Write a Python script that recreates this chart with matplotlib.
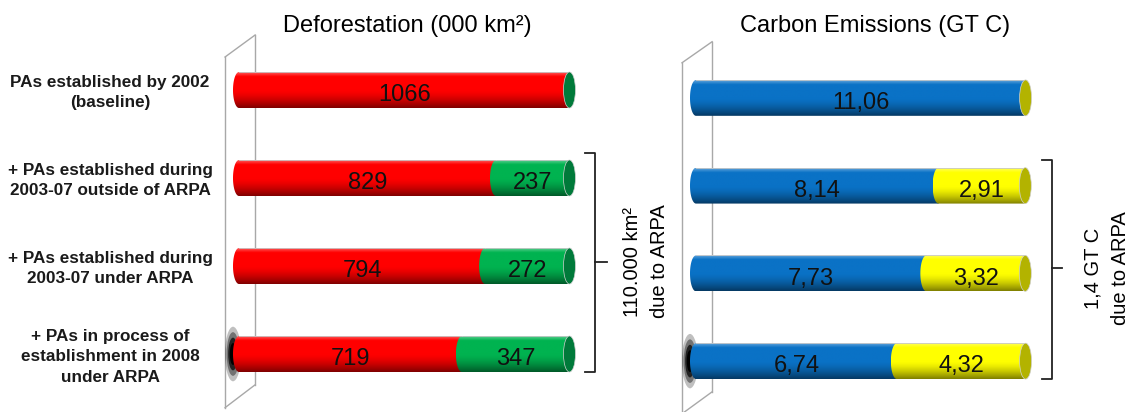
import numpy as np
import matplotlib.pyplot as plt
from matplotlib.patches import Polygon, Ellipse
from matplotlib.colors import to_rgb

plt.rcParams['font.family'] = ['Liberation Sans', 'DejaVu Sans']

# dados
rows = ["PAs established by 2002\n(baseline)",
        "+ PAs established during\n2003-07 outside of ARPA",
        "+ PAs established during\n2003-07 under ARPA",
        "+ PAs in process of\nestablishment in 2008\nunder ARPA"]
defor_base = [1066, 829, 794, 719]
defor_arpa = [0, 237, 272, 347]
carbon_base = [11.06, 8.14, 7.73, 6.74]
carbon_arpa = [0, 2.91, 3.32, 4.32]

W, H = 1130, 412
PAD = 16  # pixels a esquerda do zero, para a ponta arredondada
fig = plt.figure(figsize=(W / 100, H / 100), dpi=100)


def px_axes(x0, y0, w, h):
    return fig.add_axes([x0 / W, 1 - (y0 + h) / H, w / W, h / H])


def shade(rgb, n=80):
    t = np.linspace(0, 1, n)
    f = np.ones(n)
    m = t > 0.5
    f[m] = 1 - 0.5 * ((t[m] - 0.5) / 0.5) ** 1.5
    col = np.array(rgb)[None, :] * f[:, None]
    hl = np.clip(1 - t / 0.12, 0, 1) * 0.35
    col = col * (1 - hl[:, None]) + hl[:, None]
    return col.reshape(n, 1, 3)


def cylinder(ax, y, x0, x1, color, bh, a):
    yt, yb = y - bh / 2, y + bh / 2
    th = np.linspace(0, np.pi, 40)
    pts = [(x0, yt), (x1, yt), (x1, yb), (x0, yb)]
    pts += list(zip(x0 - a * np.sin(th), y + bh / 2 * np.cos(th)))
    poly = Polygon(pts, closed=True, facecolor='none', edgecolor='none')
    ax.add_patch(poly)
    im = ax.imshow(shade(to_rgb(color)), extent=(x0 - a, x1, yb, yt),
                   aspect='auto', interpolation='bilinear', zorder=3)
    im.set_clip_path(poly)
    ax.plot([x0, x1], [yt, yt], color='#c8c8c8', lw=0.6, zorder=4)


def panel(ax, base, extra, xmax, colors, capcol, fmt, scale):
    bh = 36 / 88
    a = 6 / scale          # meia largura da tampa (elipse)
    xmin = -PAD / scale
    # sombra escura no inicio da ultima barra
    for k, al in [(1.0, 0.25), (0.8, 0.4), (0.6, 0.7), (0.4, 1.0)]:
        ax.add_patch(Ellipse((-a, 3), 16 * k / scale, 0.62 * k,
                             color='black', alpha=al, lw=0, zorder=2))
    for i in range(len(base)):
        cylinder(ax, i, 0, base[i], colors[0], bh, a)
        ax.text(base[i] / 2, i + 0.06, fmt(base[i]), ha='center', va='center',
                fontsize=17, color='#111111', zorder=6)
        end = base[i] + extra[i]
        if extra[i] > 0:
            cylinder(ax, i, base[i], end, colors[1], bh, a)
            ax.text(base[i] + extra[i] / 2, i + 0.06, fmt(extra[i]),
                    ha='center', va='center', fontsize=17, color='#111111', zorder=6)
        ax.add_patch(Ellipse((end, i), 2 * a, bh, facecolor=capcol,
                             edgecolor='#d0d0d0', lw=0.5, zorder=5))
    ax.set_xlim(xmin, xmax)
    ax.set_ylim(3.5, -0.5)
    ax.axis('off')


def wall(ax, xf, xb, yft, ybt, yfb, ybb):
    kw = dict(color='#a8a8a8', lw=1, clip_on=False, zorder=1)
    ax.plot([xf, xf], [yft, yfb], **kw)
    ax.plot([xb, xb], [ybt, ybb], **kw)
    ax.plot([xf, xb], [yft, ybt], **kw)
    ax.plot([xf, xb], [yfb, ybb], **kw)


def brace(ax, xh, xv, xt, top, mid, bot):
    kw = dict(color='#222222', lw=1.3, clip_on=False, zorder=5)
    ax.plot([xh, xv, xv, xh], [top, top, bot, bot], **kw)
    ax.plot([xv, xt], [mid, mid], **kw)


# painel esquerdo: desmatamento
s1 = 0.31
ax1 = px_axes(239 - PAD, 46, 1200 * s1 + PAD, 352)
panel(ax1, defor_base, defor_arpa, 1200, ['#ff0000', '#00b350'], '#007a3a',
      lambda v: f"{v:d}", s1)
wall(ax1, -45, 52, -0.375, -0.625, 3.61, 3.35)
brace(ax1, 1116, 1148, 1187, 0.716, 1.95, 3.2)
ax1.text(1268, 1.95, "110.000 km²", rotation=90, ha='center', va='center',
         fontsize=14.5, clip_on=False)
ax1.text(1358, 1.95, "due to ARPA", rotation=90, ha='center', va='center',
         fontsize=14.5, clip_on=False)
for i, lab in enumerate(rows):
    ax1.text(-416, i + 0.03, lab, ha='center', va='center', fontsize=12.3,
             fontweight='bold', color='#1a1a1a', linespacing=1.45, clip_on=False)

# painel direito: emissoes de carbono
s2 = 29.8
ax2 = px_axes(696 - PAD, 54, 12.6 * s2 + PAD, 351)
panel(ax2, carbon_base, carbon_arpa, 12.6, ['#0a72c6', '#ffff00'], '#b3b300',
      lambda v: f"{v:.2f}".replace('.', ','), s2)
wall(ax2, -0.47, 0.54, -0.40, -0.64, 3.6, 3.35)
brace(ax2, 11.61, 11.95, 12.28, 0.707, 1.94, 3.2)
ax2.text(13.32, 1.94, "1,4 GT C", rotation=90, ha='center', va='center',
         fontsize=14.5, clip_on=False)
ax2.text(14.23, 1.94, "due to ARPA", rotation=90, ha='center', va='center',
         fontsize=14.5, clip_on=False)

fig.text(407 / W, 1 - 26 / H, "Deforestation (000 km²)", fontsize=17,
         ha='center', va='center')
fig.text(875 / W, 1 - 26 / H, "Carbon Emissions (GT C)", fontsize=17,
         ha='center', va='center')

fig.savefig("out.png", dpi=100)
